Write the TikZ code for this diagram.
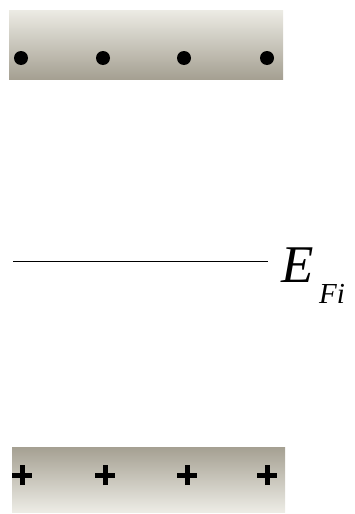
\documentclass[tikz,border=0pt]{standalone}
\usepackage{fontspec}
\setmainfont{Liberation Serif}
\begin{document}
\begin{tikzpicture}[x=1pt,y=-1pt,
  dotmark/.style={fill=black,circle,inner sep=0pt,minimum size=14pt},
  plusmark/.style={draw=black,line width=5pt}]
\useasboundingbox (0,0) rectangle (355,514);
\definecolor{bandlight}{RGB}{236,235,228}
\definecolor{banddark}{RGB}{165,160,146}
% conduction band (top)
\shade[top color=bandlight,bottom color=banddark] (9,10) rectangle (283,79);
% valence band (bottom)
\shade[top color=banddark,bottom color=bandlight!95!white] (12,447) rectangle (285,512);
% electrons
\foreach \x/\n in {21/e1,103/e2,184/e3,267/e4}
  \node[dotmark] (\n) at (\x,58) {};
% holes
\foreach \x/\n in {22/h1,105/h2,187/h3,267/h4}{
  \coordinate (\n) at (\x,475);
  \draw[plusmark] ([xshift=-10pt]\n) -- ([xshift=10pt]\n);
  \draw[plusmark] ([yshift=-10pt]\n) -- ([yshift=10pt]\n);
}
% intrinsic Fermi level
\coordinate (fl) at (13,261.5);
\coordinate (fr) at (268,261.5);
\draw[line width=1.4pt] (fl) -- (fr);
\node[anchor=base west,inner sep=0pt,font=\fontsize{53}{53}\selectfont\itshape] (E) at (281,282) {E};
\node[anchor=base west,inner sep=0pt,font=\fontsize{29}{29}\selectfont\itshape] (Fi) at (319,303) {Fi};
\end{tikzpicture}
\end{document}
